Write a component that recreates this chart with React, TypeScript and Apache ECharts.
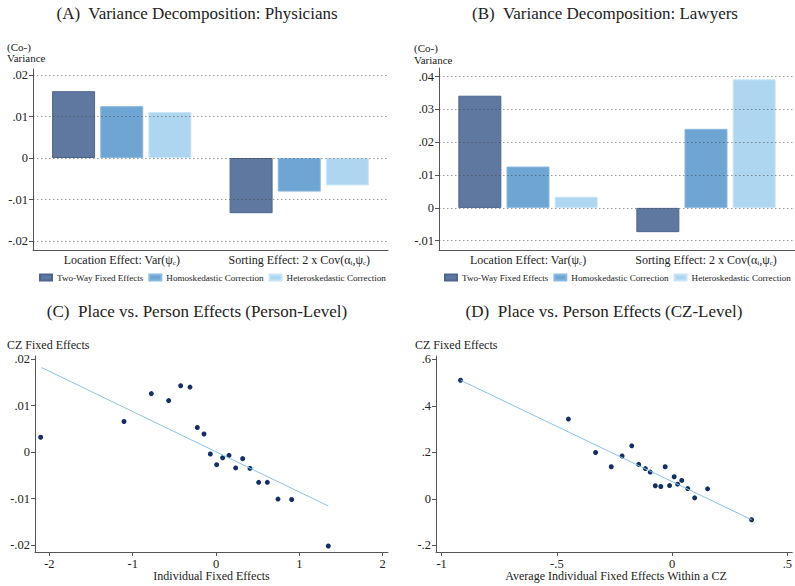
import React, { useEffect, useRef } from "react";
import * as echarts from "echarts";

// ---------- data ----------
const categories = ["Location Effect: Var(ψ_c)", "Sorting Effect: 2 x Cov(α_i,ψ_c)"];
const seriesNames = ["Two-Way Fixed Effects", "Homoskedastic Correction", "Heteroskedastic Correction"];

const physTwoWay = [0.0161, -0.0133];
const physHomo = [0.0125, -0.0081];
const physHetero = [0.0111, -0.0066];

const lawTwoWay = [0.0342, -0.0074];
const lawHomo = [0.0126, 0.0241];
const lawHetero = [0.0034, 0.0392];

const ticksA = [-0.02, -0.01, 0, 0.01, 0.02];
const ticksB = [-0.01, 0, 0.01, 0.02, 0.03, 0.04];

const personX = [-2.104, -1.104, -0.776, -0.568, -0.424, -0.312, -0.224, -0.144, -0.068, 0.008, 0.08, 0.156, 0.236, 0.32, 0.408, 0.512, 0.616, 0.744, 0.908, 1.348];
const personY = [0.0032, 0.0066, 0.0126, 0.0111, 0.0143, 0.014, 0.0053, 0.0039, -0.0004, -0.0027, -0.0012, -0.0007, -0.0034, -0.0014, -0.0035, -0.0065, -0.0065, -0.0101, -0.0102, -0.0202];
const personFitX = [-2.092, 1.348];
const personFitY = [0.0182, -0.0116];
const personXTicks = [-2, -1, 0, 1, 2];
const personYTicks = [-0.02, -0.01, 0, 0.01, 0.02];

const czX = [-0.918, -0.45, -0.332, -0.264, -0.217, -0.175, -0.145, -0.116, -0.095, -0.073, -0.049, -0.03, -0.011, 0.009, 0.024, 0.042, 0.068, 0.098, 0.154, 0.345];
const czY = [0.51, 0.343, 0.199, 0.138, 0.184, 0.228, 0.148, 0.13, 0.115, 0.056, 0.053, 0.138, 0.057, 0.095, 0.063, 0.079, 0.044, 0.004, 0.043, -0.09];
const czFitX = [-0.918, 0.345];
const czFitY = [0.51, -0.09];
const czXTicks = [-1, -0.5, 0, 0.5];
const czYTicks = [-0.2, 0, 0.2, 0.4, 0.6];

// ---------- style ----------
const FONT = "'Liberation Serif', 'Times New Roman', serif";
const TXT = "#222";
const AXIS = "#555";
const barColors = ["#5f789f", "#6fa5d3", "#afd6f1"];
const barBorders = ["#4d6690", "#8ab9e1", "#c8e5f7"];
const DOT = "#142f63";
const FIT = "#88c2ec";

const fmt = (v: number) => {
  if (Math.abs(v) < 1e-12) return "0";
  const s = String(+v.toFixed(4));
  return s.replace(/^(-?)0\./, "$1.");
};

const zip = (xs: number[], ys: number[]) => xs.map((x, i) => [x, ys[i]]);

function valueAxis(gridIndex: number, min: number, max: number, ticks: number[]) {
  return {
    type: "value",
    gridIndex,
    min,
    max,
    axisLine: { show: true, onZero: false, lineStyle: { color: AXIS, width: 1 } },
    axisTick: { show: true, length: 4, customValues: ticks, lineStyle: { color: AXIS } },
    axisLabel: { customValues: ticks, formatter: fmt, color: TXT, fontFamily: FONT, fontSize: 12.5, margin: 5 },
    splitLine: { show: false },
  };
}

function catAxis(gridIndex: number) {
  return {
    type: "category",
    gridIndex,
    data: categories,
    axisLine: { show: true, onZero: false, lineStyle: { color: AXIS, width: 1 } },
    axisTick: { show: false },
    axisLabel: {
      interval: 0,
      color: TXT,
      fontFamily: FONT,
      fontSize: 12,
      margin: 3,
      formatter: (v: string) => v.replace(/_(\w)/g, "{s|$1}"),
      rich: { s: { fontSize: 7, fontFamily: FONT, color: TXT, verticalAlign: "bottom", padding: [6, 0, 0, 0] } },
    },
    splitLine: { show: false },
  };
}

function bars(names: string[], data: number[][], axisIndex: number, ticks: number[]) {
  return names.map((n, i) => ({
    type: "bar",
    name: n,
    xAxisIndex: axisIndex,
    yAxisIndex: axisIndex,
    data: data[i],
    barWidth: 43,
    barGap: "12%",
    itemStyle: { color: barColors[i], borderColor: barBorders[i], borderWidth: 1 },
    markLine:
      i === names.length - 1
        ? {
            silent: true,
            symbol: "none",
            label: { show: false },
            z: 10,
            lineStyle: { color: "rgba(70,70,70,0.55)", type: [1.5, 2.5], width: 1 },
            data: ticks.map((t) => ({ yAxis: t })),
          }
        : undefined,
  }));
}

function legend(left: number) {
  return {
    data: seriesNames,
    left,
    top: 273,
    width: 600,
    orient: "horizontal",
    icon: "rect",
    itemWidth: 12,
    itemHeight: 6,
    itemGap: 5,
    padding: 0,
    selectedMode: false,
    textStyle: { fontFamily: FONT, fontSize: 9.1, color: TXT },
  };
}

function txt(text: string, x: number, y: number, size: number, align = "left") {
  return {
    type: "text",
    x,
    y,
    silent: true,
    style: { text, fill: TXT, fontFamily: FONT, fontSize: size, textAlign: align, textVerticalAlign: "middle", lineHeight: size },
  };
}

export default function App() {
  const ref = useRef<HTMLDivElement>(null);
  useEffect(() => {
    if (!ref.current) return;
    const chart = echarts.init(ref.current, undefined, { renderer: "svg" });
    const option: any = {
      animation: false,
      backgroundColor: "#ffffff",
      textStyle: { fontFamily: FONT },
      grid: [
        { left: 33, top: 69, width: 355, height: 181 },
        { left: 439, top: 68, width: 356, height: 182 },
        { left: 35, top: 356, width: 353, height: 196 },
        { left: 436, top: 356, width: 359, height: 196 },
      ],
      xAxis: [
        catAxis(0),
        catAxis(1),
        valueAxis(2, -2.172, 2.064, personXTicks),
        valueAxis(3, -1.0245, 0.5215, czXTicks),
      ],
      yAxis: [
        valueAxis(0, -0.02217, 0.02145, ticksA),
        valueAxis(1, -0.01284, 0.04265, ticksB),
        valueAxis(2, -0.0215, 0.0207, personYTicks),
        valueAxis(3, -0.2288, 0.6142, czYTicks),
      ],
      legend: [legend(39), legend(444)],
      graphic: [
        txt("(A)  Variance Decomposition: Physicians", 197, 13, 17, "center"),
        txt("(B)  Variance Decomposition: Lawyers", 605, 13, 17, "center"),
        txt("(C)  Place vs. Person Effects (Person-Level)", 197, 311, 17, "center"),
        txt("(D)  Place vs. Person Effects (CZ-Level)", 604, 311, 17, "center"),
        txt("(Co-)", 7, 47, 11),
        txt("Variance", 7, 58, 11),
        txt("(Co-)", 414, 48, 11),
        txt("Variance", 414, 60, 11),
        txt("CZ Fixed Effects", 7, 345, 12),
        txt("CZ Fixed Effects", 415, 345, 12),
        txt("Individual Fixed Effects", 211.5, 576, 12, "center"),
        txt("Average Individual Fixed Effects Within a CZ", 616, 576, 12, "center"),
      ],
      series: [
        ...bars(seriesNames, [physTwoWay, physHomo, physHetero], 0, ticksA),
        ...bars(seriesNames, [lawTwoWay, lawHomo, lawHetero], 1, ticksB),
        {
          type: "line",
          xAxisIndex: 2,
          yAxisIndex: 2,
          data: zip(personFitX, personFitY),
          showSymbol: false,
          lineStyle: { color: FIT, width: 1 },
        },
        {
          type: "scatter",
          xAxisIndex: 2,
          yAxisIndex: 2,
          data: zip(personX, personY),
          symbolSize: 5,
          itemStyle: { color: DOT, opacity: 1 },
        },
        {
          type: "line",
          xAxisIndex: 3,
          yAxisIndex: 3,
          data: zip(czFitX, czFitY),
          showSymbol: false,
          lineStyle: { color: FIT, width: 1 },
        },
        {
          type: "scatter",
          xAxisIndex: 3,
          yAxisIndex: 3,
          data: zip(czX, czY),
          symbolSize: 5,
          itemStyle: { color: DOT, opacity: 1 },
        },
      ],
    };
    chart.setOption(option);
    return () => chart.dispose();
  }, []);
  return <div ref={ref} style={{ position: "absolute", left: 0, top: 0, width: 795, height: 586 }} />;
}
